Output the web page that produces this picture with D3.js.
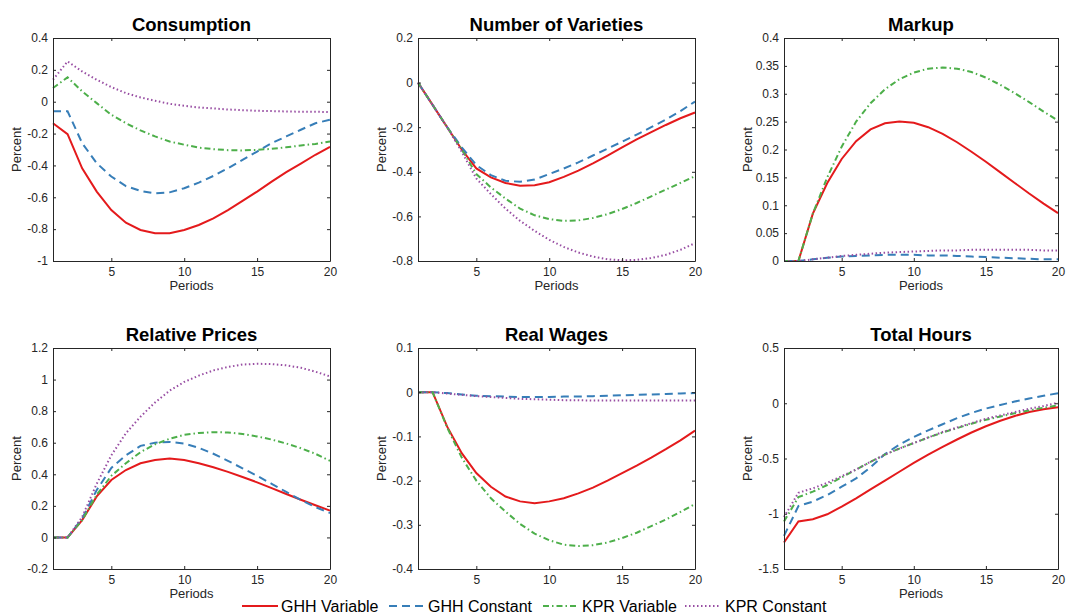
<!DOCTYPE html>
<html>
<head>
<meta charset="utf-8">
<script src="https://cdn.jsdelivr.net/npm/d3@7"></script>
<style>
  body { margin: 0; background: #fff; }
  svg { font-family: "Liberation Sans", Arial, Helvetica, sans-serif; }
  .axis text { fill: #262626; font-size: 12px; }
  .axis line, .axis path { stroke: #262626; }
</style>
</head>
<body>
<svg id="chart" width="1067" height="615"></svg>
<script>
// periods on the x axis
var periods = [1,2,3,4,5,6,7,8,9,10,11,12,13,14,15,16,17,18,19,20];
var xTicks = [5, 10, 15, 20];

var seriesNames = ["GHH Variable", "GHH Constant", "KPR Variable", "KPR Constant"];
var seriesColors = ["#e41a1c", "#377eb8", "#4daf4a", "#984ea3"];
var seriesDash = ["none", "8,5", "6,3,1.5,3", "1.5,2.5"];

// Consumption
var consGhhVar = [-0.135,-0.204,-0.418,-0.564,-0.68,-0.76,-0.805,-0.826,-0.826,-0.805,-0.774,-0.732,-0.68,-0.623,-0.564,-0.502,-0.442,-0.388,-0.333,-0.283];
var consGhhCon = [-0.06,-0.06,-0.26,-0.386,-0.47,-0.53,-0.56,-0.575,-0.569,-0.543,-0.508,-0.466,-0.418,-0.365,-0.313,-0.26,-0.218,-0.176,-0.135,-0.113];
var consKprVar = [0.086,0.153,0.065,-0.009,-0.082,-0.135,-0.18,-0.218,-0.25,-0.27,-0.288,-0.298,-0.304,-0.306,-0.302,-0.296,-0.286,-0.275,-0.265,-0.25];
var consKprCon = [0.138,0.253,0.19,0.138,0.092,0.054,0.027,0.006,-0.013,-0.026,-0.036,-0.042,-0.049,-0.053,-0.057,-0.059,-0.061,-0.063,-0.063,-0.065];

// Number of Varieties
var varGhhVar = [0,-0.1,-0.2,-0.3,-0.385,-0.425,-0.45,-0.463,-0.46,-0.447,-0.423,-0.395,-0.362,-0.327,-0.291,-0.255,-0.222,-0.19,-0.16,-0.134];
var varGhhCon = [0,-0.1,-0.2,-0.29,-0.37,-0.415,-0.44,-0.445,-0.435,-0.41,-0.385,-0.358,-0.327,-0.296,-0.265,-0.233,-0.2,-0.166,-0.128,-0.085];
var varKprVar = [0,-0.1,-0.2,-0.3,-0.41,-0.47,-0.52,-0.565,-0.595,-0.612,-0.62,-0.618,-0.607,-0.59,-0.567,-0.54,-0.51,-0.48,-0.45,-0.42];
var varKprCon = [0,-0.1,-0.2,-0.31,-0.43,-0.5,-0.565,-0.62,-0.665,-0.705,-0.737,-0.762,-0.78,-0.792,-0.797,-0.795,-0.787,-0.772,-0.75,-0.72];

// Markup
var mkGhhVar = [0,0,0.085,0.14,0.183,0.215,0.236,0.247,0.25,0.248,0.24,0.228,0.213,0.196,0.178,0.159,0.14,0.121,0.103,0.086];
var mkGhhCon = [0,0,0.003,0.006,0.008,0.009,0.01,0.011,0.011,0.011,0.01,0.01,0.009,0.008,0.007,0.006,0.005,0.004,0.003,0.003];
var mkKprVar = [0,0,0.085,0.15,0.205,0.25,0.283,0.308,0.326,0.338,0.345,0.347,0.345,0.339,0.329,0.316,0.301,0.285,0.268,0.252];
var mkKprCon = [0,0,0.003,0.006,0.009,0.011,0.013,0.015,0.016,0.017,0.018,0.019,0.019,0.02,0.02,0.02,0.02,0.02,0.019,0.019];

// Relative Prices
var rpGhhVar = [0,0,0.11,0.26,0.364,0.427,0.47,0.49,0.5,0.49,0.47,0.445,0.415,0.383,0.349,0.312,0.275,0.239,0.204,0.17];
var rpGhhCon = [0,0,0.12,0.3,0.44,0.52,0.58,0.6,0.605,0.595,0.568,0.53,0.485,0.438,0.39,0.34,0.288,0.238,0.192,0.155];
var rpKprVar = [0,0,0.11,0.27,0.39,0.47,0.54,0.59,0.625,0.65,0.662,0.667,0.665,0.655,0.64,0.62,0.595,0.565,0.53,0.485];
var rpKprCon = [0,0,0.13,0.34,0.52,0.66,0.765,0.855,0.93,0.985,1.025,1.058,1.08,1.095,1.1,1.098,1.09,1.075,1.05,1.02];

// Real Wages
var rwGhhVar = [0,0,-0.078,-0.138,-0.183,-0.214,-0.236,-0.247,-0.251,-0.247,-0.24,-0.229,-0.216,-0.2,-0.183,-0.166,-0.148,-0.129,-0.109,-0.087];
var rwGhhCon = [0,0,-0.002,-0.005,-0.008,-0.009,-0.01,-0.011,-0.011,-0.011,-0.01,-0.01,-0.009,-0.008,-0.007,-0.006,-0.005,-0.004,-0.003,-0.002];
var rwKprVar = [0,0,-0.08,-0.148,-0.2,-0.24,-0.27,-0.298,-0.32,-0.335,-0.345,-0.348,-0.346,-0.34,-0.33,-0.318,-0.303,-0.288,-0.271,-0.253];
var rwKprCon = [0,0,-0.003,-0.006,-0.009,-0.011,-0.013,-0.015,-0.016,-0.017,-0.018,-0.018,-0.019,-0.019,-0.019,-0.019,-0.019,-0.019,-0.019,-0.019];

// Total Hours
var thGhhVar = [-1.26,-1.07,-1.05,-1.005,-0.935,-0.86,-0.78,-0.7,-0.62,-0.54,-0.465,-0.395,-0.328,-0.265,-0.208,-0.158,-0.115,-0.08,-0.054,-0.037];
var thGhhCon = [-1.2,-0.93,-0.89,-0.83,-0.755,-0.68,-0.58,-0.46,-0.375,-0.305,-0.245,-0.19,-0.135,-0.088,-0.048,-0.015,0.015,0.043,0.068,0.09];
var thKprVar = [-1.07,-0.85,-0.8,-0.74,-0.67,-0.6,-0.53,-0.465,-0.41,-0.36,-0.31,-0.265,-0.225,-0.185,-0.15,-0.12,-0.09,-0.065,-0.04,-0.02];
var thKprCon = [-1.03,-0.81,-0.77,-0.72,-0.66,-0.6,-0.53,-0.465,-0.41,-0.36,-0.31,-0.26,-0.22,-0.18,-0.14,-0.11,-0.08,-0.05,-0.025,0.005];

// y tick values per panel
var consTicks = [-1,-0.8,-0.6,-0.4,-0.2,0,0.2,0.4];
var varTicks = [-0.8,-0.6,-0.4,-0.2,0,0.2];
var mkTicks = [0,0.05,0.1,0.15,0.2,0.25,0.3,0.35,0.4];
var rpTicks = [-0.2,0,0.2,0.4,0.6,0.8,1,1.2];
var rwTicks = [-0.4,-0.3,-0.2,-0.1,0,0.1];
var thTicks = [-1.5,-1,-0.5,0,0.5];

var panels = [
  { title: "Consumption", x: 53, y: 38, w: 277, h: 223, ticks: consTicks, series: [consGhhVar, consGhhCon, consKprVar, consKprCon], xlabel: true },
  { title: "Number of Varieties", x: 418, y: 38, w: 277, h: 223, ticks: varTicks, series: [varGhhVar, varGhhCon, varKprVar, varKprCon], xlabel: true },
  { title: "Markup", x: 784, y: 38, w: 274, h: 223, ticks: mkTicks, series: [mkGhhVar, mkGhhCon, mkKprVar, mkKprCon], xlabel: true },
  { title: "Relative Prices", x: 53, y: 348, w: 277, h: 221, ticks: rpTicks, series: [rpGhhVar, rpGhhCon, rpKprVar, rpKprCon], xlabel: true },
  { title: "Real Wages", x: 418, y: 348, w: 277, h: 221, ticks: rwTicks, series: [rwGhhVar, rwGhhCon, rwKprVar, rwKprCon], xlabel: false },
  { title: "Total Hours", x: 784, y: 348, w: 274, h: 221, ticks: thTicks, series: [thGhhVar, thGhhCon, thKprVar, thKprCon], xlabel: true }
];

var svg = d3.select("#chart");

function fmt(v) {
  return String(+v.toFixed(2));
}

panels.forEach(function(p) {
  var g = svg.append("g").attr("transform", "translate(" + p.x + "," + p.y + ")");

  var x = d3.scaleLinear().domain([1, 20]).range([0, p.w]);
  var y = d3.scaleLinear().domain(d3.extent(p.ticks)).range([p.h, 0]);

  // lines
  var line = d3.line()
    .x(function(d, i) { return x(periods[i]); })
    .y(function(d) { return y(d); });

  p.series.forEach(function(s, i) {
    g.append("path")
      .datum(s)
      .attr("fill", "none")
      .attr("stroke", seriesColors[i])
      .attr("stroke-width", 2)
      .attr("stroke-dasharray", seriesDash[i])
      .attr("d", line);
  });

  // axes, ticks pointing inward on all four sides
  g.append("g").attr("class", "axis")
    .attr("transform", "translate(0," + p.h + ")")
    .call(d3.axisBottom(x).tickValues(xTicks).tickSizeInner(-3).tickSizeOuter(0).tickPadding(6).tickFormat(fmt));
  g.append("g").attr("class", "axis")
    .call(d3.axisTop(x).tickValues(xTicks).tickSizeInner(-3).tickSizeOuter(0).tickFormat(""));
  g.append("g").attr("class", "axis")
    .call(d3.axisLeft(y).tickValues(p.ticks).tickSizeInner(-3).tickSizeOuter(0).tickPadding(5).tickFormat(fmt));
  g.append("g").attr("class", "axis")
    .attr("transform", "translate(" + p.w + ",0)")
    .call(d3.axisRight(y).tickValues(p.ticks).tickSizeInner(-3).tickSizeOuter(0).tickFormat(""));

  // title
  g.append("text")
    .attr("x", p.w / 2)
    .attr("y", -7)
    .attr("text-anchor", "middle")
    .attr("font-size", "18.5px")
    .attr("font-weight", "bold")
    .attr("fill", "#000")
    .text(p.title);

  // y label
  g.append("text")
    .attr("transform", "translate(-32," + (p.h / 2) + ") rotate(-90)")
    .attr("text-anchor", "middle")
    .attr("font-size", "13px")
    .attr("fill", "#262626")
    .text("Percent");

  // x label
  if (p.xlabel) {
    g.append("text")
      .attr("x", p.w / 2)
      .attr("y", p.h + 29)
      .attr("text-anchor", "middle")
      .attr("font-size", "13px")
      .attr("fill", "#262626")
      .text("Periods");
  }
});

// legend along the bottom
var legendItems = [
  { lx: 242, tx: 281 },
  { lx: 389, tx: 428 },
  { lx: 543, tx: 582 },
  { lx: 685, tx: 725 }
];
var legend = svg.append("g");
legendItems.forEach(function(it, i) {
  legend.append("line")
    .attr("x1", it.lx).attr("x2", it.lx + 36)
    .attr("y1", 606).attr("y2", 606)
    .attr("stroke", seriesColors[i])
    .attr("stroke-width", 2)
    .attr("stroke-dasharray", seriesDash[i]);
  legend.append("text")
    .attr("x", it.tx)
    .attr("y", 612)
    .attr("font-size", "16px")
    .attr("fill", "#000")
    .text(seriesNames[i]);
});
</script>
</body>
</html>
